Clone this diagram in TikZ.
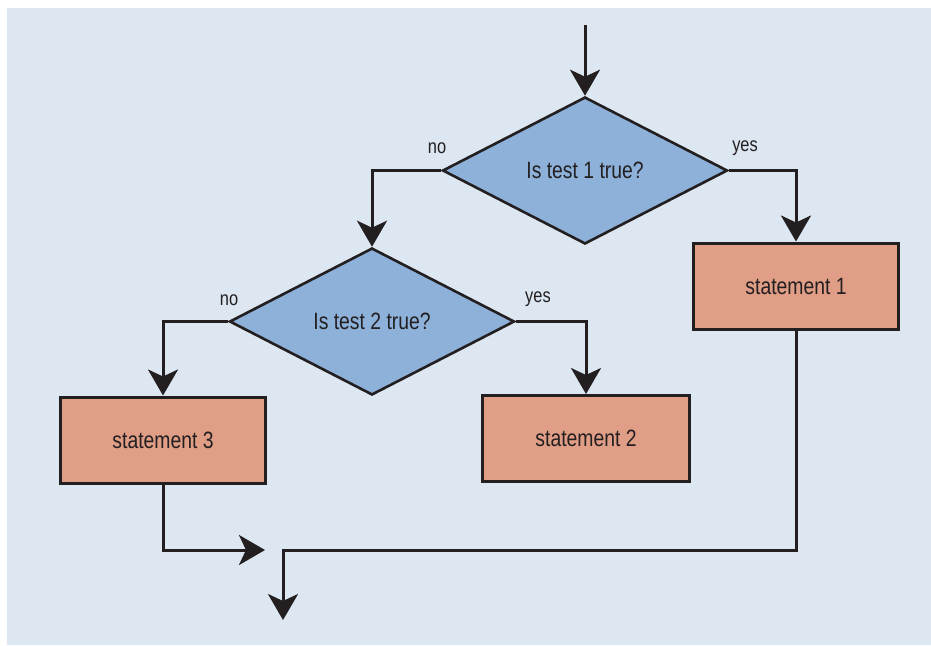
\documentclass[tikz,border=0pt]{standalone}
\usepackage{fontspec}
\setmainfont[FakeStretch=0.82]{Liberation Sans}
\usetikzlibrary{shapes.geometric,arrows.meta}

\definecolor{panel}{HTML}{DDE7F1}
\definecolor{decfill}{HTML}{8DB1D9}
\definecolor{stmtfill}{HTML}{E09E86}
\definecolor{ink}{HTML}{231F20}

\tikzset{
  x=0.5pt, y=-0.5pt,
  flowline/.style={draw=ink, line width=1.5pt},
  arr/.style={flowline, -{Stealth[length=13pt, width=15pt, inset=3.5pt]}},
  decision/.style={diamond, draw=ink, fill=decfill, line width=1.3pt,
    minimum width=142.5pt, minimum height=73.5pt, inner sep=0pt,
    text=ink, font=\fontsize{11.8}{14}\selectfont},
  stmtbox/.style={rectangle, draw=ink, fill=stmtfill, line width=1.5pt,
    minimum width=102.5pt, minimum height=43pt, inner sep=0pt, text=ink,
    font=\fontsize{11.8}{14}\selectfont},
  branch/.style={text=ink, font=\fontsize{10}{12}\selectfont, inner sep=0pt}
}

\begin{document}
\begin{tikzpicture}
  \useasboundingbox (0,0) rectangle (931,645);
  \fill[panel] (7,8) rectangle (931,645);

  % decisions
  \node[decision] (d1) at (585,170.5) {Is test 1 true?};
  \node[decision] (d2) at (372,321.5) {Is test 2 true?};

  % statements
  \node[stmtbox] (s1) at (796,286) {statement 1};
  \node[stmtbox, minimum width=103.5pt] (s2) at (586,438.5) {statement 2};
  \node[stmtbox] (s3) at (163,440) {statement 3};

  % branch labels
  \node[branch] (n1) at (437,148) {no};
  \node[branch] (y1) at (745,148) {yes};
  \node[branch] (n2) at (229,300) {no};
  \node[branch] (y2) at (538,299) {yes};

  % helper points
  \coordinate (entry) at (585,25);
  \coordinate (join) at (265,550);
  \coordinate (turn) at (283,550);
  \coordinate (exit) at (283,620);

  % connectors
  \draw[arr] (entry) -- (d1.north);
  \draw[arr] (d1.west) -| (d2.north);
  \draw[arr] (d1.east) -| (s1.north);
  \draw[arr] (d2.east) -| (s2.north);
  \draw[arr] (d2.west) -| (s3.north);
  \draw[arr] (s3.south) |- (join);
  \draw[arr] (s1.south) |- (turn) -- (exit);
\end{tikzpicture}
\end{document}
